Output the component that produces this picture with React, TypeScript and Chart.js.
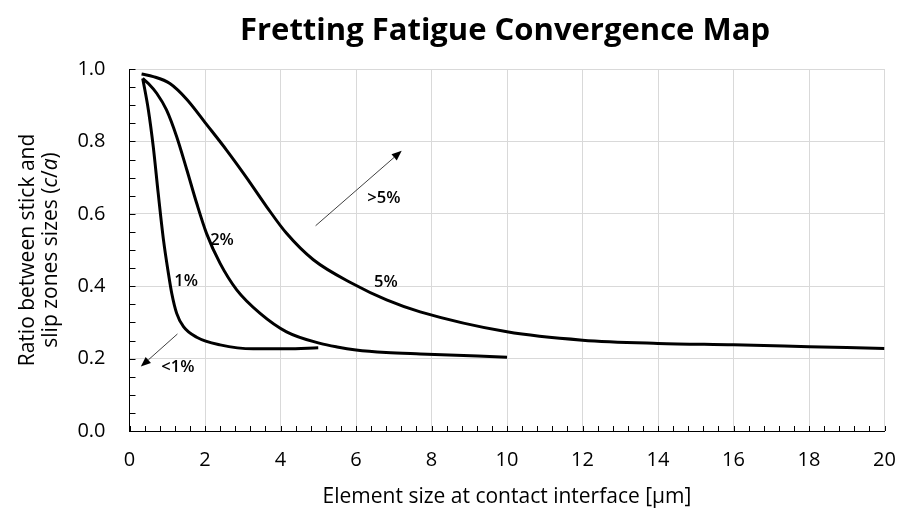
import { useEffect, useRef } from 'react';
import { Chart, registerables } from 'chart.js';

Chart.register(...registerables);

const TITLE = 'Fretting Fatigue Convergence Map';
const X_TITLE = 'Element size at contact interface [µm]';
const Y_TITLE_LINE1: [string, boolean][] = [['Ratio between stick and', false]];
const Y_TITLE_LINE2: [string, boolean][] = [
  ['slip zones sizes (', false],
  ['c', true],
  ['/', false],
  ['a', true],
  [')', false],
];

// 1% curve
const x1 = [0.35, 0.5, 0.63, 0.76, 0.9, 1.03, 1.12, 1.25, 1.43, 1.78, 2.4, 3.28, 4.16, 5.0];
const y1 = [0.974, 0.887, 0.785, 0.657, 0.528, 0.436, 0.38, 0.325, 0.288, 0.259, 0.238, 0.227, 0.227, 0.23];
// 2% curve
const x2 = [0.35, 0.5, 0.72, 0.98, 1.25, 1.52, 1.78, 2.04, 2.4, 2.84, 3.46, 4.16, 5.05, 5.5, 6.0, 6.8, 7.7, 10.0];
const y2 = [0.974, 0.96, 0.933, 0.887, 0.813, 0.721, 0.629, 0.546, 0.463, 0.39, 0.325, 0.274, 0.242, 0.232, 0.224, 0.217, 0.213, 0.204];
// 5% curve
const x5 = [0.32, 0.63, 1.07, 1.52, 2.04, 2.57, 3.1, 3.63, 4.16, 4.87, 5.93, 6.81, 7.7, 10.0, 12.0, 14.0, 16.0, 18.0, 20.0];
const y5 = [0.986, 0.979, 0.96, 0.916, 0.847, 0.776, 0.7, 0.62, 0.546, 0.473, 0.406, 0.362, 0.329, 0.274, 0.251, 0.242, 0.238, 0.233, 0.228];

// annotation labels (data coordinates)
const labelTexts = ['1%', '2%', '5%', '>5%', '<1%'];
const labelXs = [1.5, 2.45, 6.79, 6.74, 1.28];
const labelYs = [0.414, 0.528, 0.412, 0.644, 0.177];

// arrows (data coordinates)
const arrowFromX = [4.93, 1.27];
const arrowFromY = [0.567, 0.268];
const arrowToX = [7.21, 0.3];
const arrowToY = [0.774, 0.178];

const X_MIN = 0, X_MAX = 20, X_STEP = 2, X_MINOR = 0.4;
const Y_MIN = 0, Y_MAX = 1, Y_STEP = 0.2, Y_MINOR = 0.05;

const FONT = '"Open Sans", sans-serif';

const pts = (xs: number[], ys: number[]) => xs.map((x, i) => ({ x, y: ys[i] }));

const overlay = {
  id: 'overlay',
  beforeDatasetsDraw(chart: any) {
    const { ctx, chartArea, scales } = chart;
    const x = scales.x, y = scales.y;
    ctx.save();
    ctx.strokeStyle = '#000';
    ctx.lineWidth = 1;
    const ny = Math.round((Y_MAX - Y_MIN) / Y_MINOR);
    for (let i = 0; i <= ny; i++) {
      const py = Math.round(y.getPixelForValue(Y_MIN + i * Y_MINOR)) + 0.5;
      ctx.beginPath();
      ctx.moveTo(chartArea.left, py);
      ctx.lineTo(chartArea.left + 6, py);
      ctx.stroke();
    }
    const nx = Math.round((X_MAX - X_MIN) / X_MINOR);
    for (let i = 0; i <= nx; i++) {
      const px = Math.round(x.getPixelForValue(X_MIN + i * X_MINOR)) + 0.5;
      ctx.beginPath();
      ctx.moveTo(px, chartArea.bottom);
      ctx.lineTo(px, chartArea.bottom - 5);
      ctx.stroke();
    }
    ctx.restore();
  },
  afterDraw(chart: any) {
    const { ctx, chartArea, scales } = chart;
    const x = scales.x, y = scales.y;
    ctx.save();
    // arrows
    ctx.strokeStyle = '#404040';
    ctx.fillStyle = '#000';
    ctx.lineWidth = 1;
    for (let i = 0; i < arrowFromX.length; i++) {
      const x0 = x.getPixelForValue(arrowFromX[i]);
      const y0 = y.getPixelForValue(arrowFromY[i]);
      const x1p = x.getPixelForValue(arrowToX[i]);
      const y1p = y.getPixelForValue(arrowToY[i]);
      const ang = Math.atan2(y1p - y0, x1p - x0);
      const len = 10, half = 4;
      const bx = x1p - len * Math.cos(ang);
      const by = y1p - len * Math.sin(ang);
      ctx.beginPath();
      ctx.moveTo(x0, y0);
      ctx.lineTo(bx, by);
      ctx.stroke();
      ctx.beginPath();
      ctx.moveTo(x1p, y1p);
      ctx.lineTo(bx + half * Math.sin(ang), by - half * Math.cos(ang));
      ctx.lineTo(bx - half * Math.sin(ang), by + half * Math.cos(ang));
      ctx.closePath();
      ctx.fill();
    }
    // labels
    ctx.fillStyle = '#000';
    ctx.font = `600 16.5px ${FONT}`;
    ctx.textAlign = 'center';
    ctx.textBaseline = 'middle';
    labelTexts.forEach((t, i) => {
      ctx.fillText(t, x.getPixelForValue(labelXs[i]), y.getPixelForValue(labelYs[i]));
    });
    // title
    ctx.font = `bold 31px ${FONT}`;
    ctx.fillText(TITLE, 505, 31);
    // x title
    ctx.font = `21px ${FONT}`;
    ctx.fillStyle = '#000';
    ctx.fillText(X_TITLE, (chartArea.left + chartArea.right) / 2, 497);
    // y title (rotated)
    const cy = (chartArea.top + chartArea.bottom) / 2;
    const drawRich = (parts: [string, boolean][], cx: number) => {
      ctx.save();
      ctx.translate(cx, cy);
      ctx.rotate(-Math.PI / 2);
      ctx.textAlign = 'left';
      ctx.textBaseline = 'middle';
      let total = 0;
      parts.forEach(([s, it]) => {
        ctx.font = `${it ? 'italic ' : ''}21px ${FONT}`;
        total += ctx.measureText(s).width;
      });
      let pos = -total / 2;
      parts.forEach(([s, it]) => {
        ctx.font = `${it ? 'italic ' : ''}21px ${FONT}`;
        ctx.fillText(s, pos, 0);
        pos += ctx.measureText(s).width;
      });
      ctx.restore();
    };
    drawRich(Y_TITLE_LINE1, 28.5);
    drawRich(Y_TITLE_LINE2, 51);
    ctx.restore();
  },
};

export default function App() {
  const ref = useRef<HTMLCanvasElement>(null);
  useEffect(() => {
    if (!ref.current) return;
    const lineDs = (label: string, data: any[]) => ({
      label,
      data,
      showLine: true,
      borderColor: '#000',
      backgroundColor: '#000',
      borderWidth: 3,
      pointRadius: 0,
      cubicInterpolationMode: 'monotone' as const,
      fill: false,
    });
    const chart = new Chart(ref.current, {
      type: 'scatter',
      data: {
        datasets: [
          lineDs('1%', pts(x1, y1)),
          lineDs('2%', pts(x2, y2)),
          lineDs('5%', pts(x5, y5)),
        ],
      },
      options: {
        responsive: false,
        animation: false,
        layout: { padding: { top: 69, right: 14.5, left: 0, bottom: 0 } },
        plugins: { legend: { display: false }, tooltip: { enabled: false }, title: { display: false } },
        scales: {
          x: {
            type: 'linear',
            min: X_MIN,
            max: X_MAX,
            afterFit: (s: any) => { s.height = 78; s.paddingRight = 0; s.paddingLeft = 0; },
            ticks: { stepSize: X_STEP, font: { family: FONT, size: 20 }, color: '#000', padding: 17, maxRotation: 0 },
            grid: { color: '#d9d9d9', drawTicks: false, lineWidth: 1 },
            border: { color: '#000', width: 1 },
          },
          y: {
            type: 'linear',
            min: Y_MIN,
            max: Y_MAX,
            afterFit: (s: any) => { s.width = 129.5; s.paddingTop = 0; s.paddingBottom = 0; },
            ticks: {
              stepSize: Y_STEP,
              font: { family: FONT, size: 20 },
              color: '#000',
              padding: 24,
              callback: (v: any) => Number(v).toFixed(1),
            },
            grid: { color: '#d9d9d9', drawTicks: false, lineWidth: 1 },
            border: { color: '#000', width: 1 },
          },
        },
      },
      plugins: [overlay],
    });
    return () => chart.destroy();
  }, []);
  return (
    <canvas
      ref={ref}
      width={899}
      height={509}
      style={{ position: 'fixed', left: 0, top: 0, width: 899, height: 509, display: 'block', background: '#fff' }}
    />
  );
}
